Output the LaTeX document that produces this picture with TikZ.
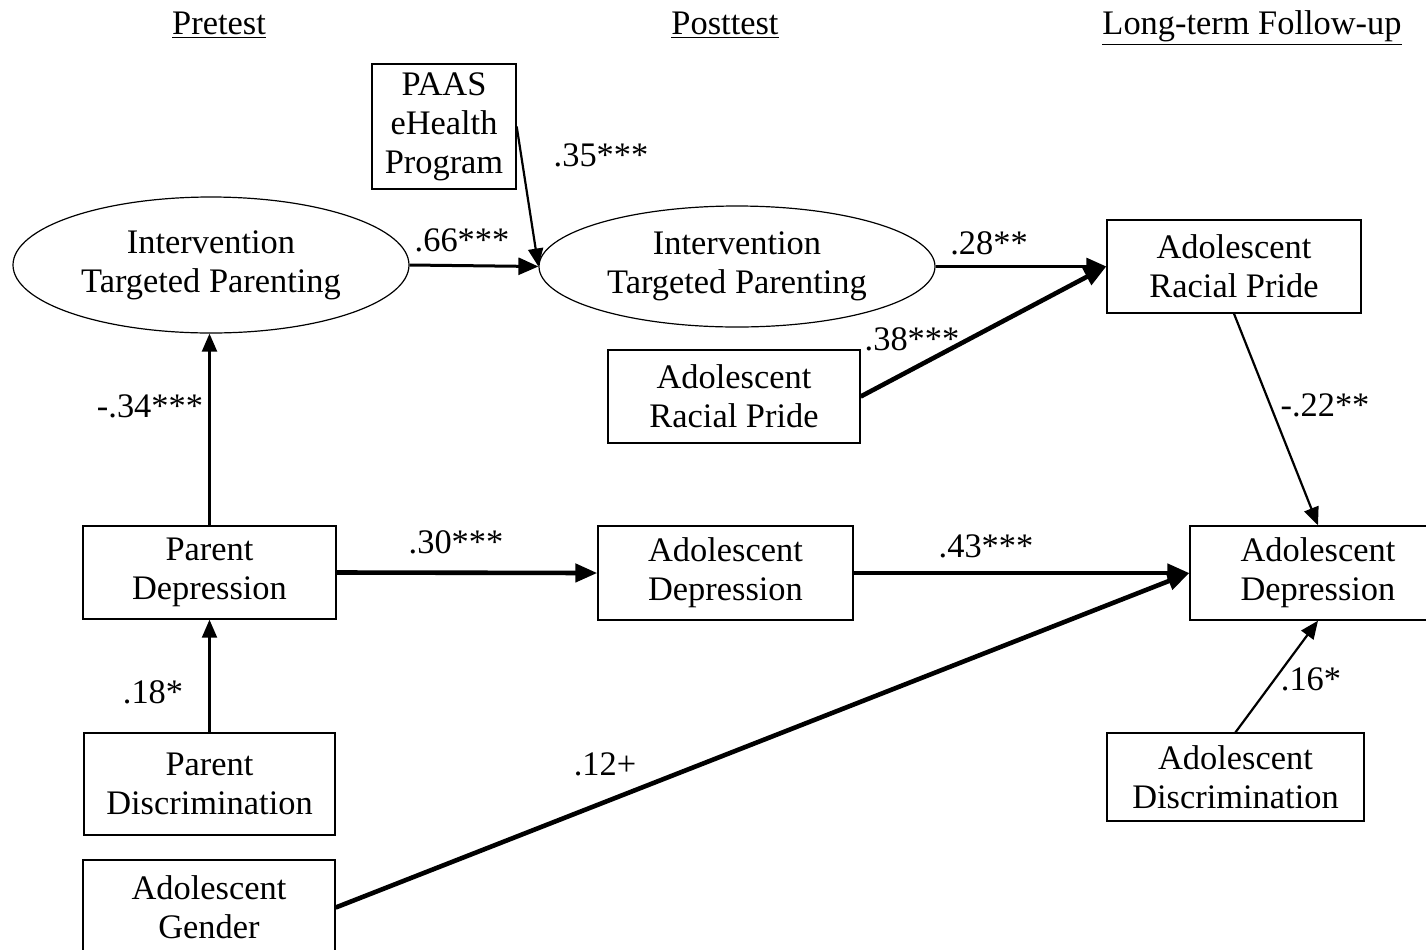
\documentclass[tikz,border=0pt]{standalone}
\usepackage{fontspec}
\setmainfont{Liberation Serif}
\usetikzlibrary{arrows.meta,shapes.geometric}
\begin{document}
\begin{tikzpicture}[x=0.5pt,y=-0.5pt,
  every node/.style={font=\fontsize{17.2pt}{19.5pt}\selectfont, inner sep=0pt},
  varbox/.style={draw, line width=0.7pt, align=center},
  latent/.style={draw, ellipse, line width=0.6pt, align=center},
  coef/.style={anchor=center},
  period/.style={anchor=base},
  thinpath/.style={line width=1.1pt, -{Triangle[length=9pt,width=7.5pt]}},
  midpath/.style={line width=1.5pt, -{Triangle[length=10pt,width=8.5pt]}},
  thickpath/.style={line width=2.3pt, -{Triangle[length=11pt,width=9pt]}}
]
\clip (0,0) rectangle (1426,949);
\fill[white] (0,0) rectangle (1426,949);

% wave headings
\node[period] (hpre)  at (219,34)  {\underline{Pretest}};
\node[period] (hpost) at (725,34)  {\underline{Posttest}};
\node[period] (hfu)   at (1252,34) {\underline{Long-term Follow-up}};

% variables
\node[varbox, minimum width=72pt, minimum height=62.5pt] (paas) at (444,126.5) {PAAS\\eHealth\\Program};
\node[latent, minimum width=198pt, minimum height=68pt] (tp1) at (211,265) {Intervention\\Targeted Parenting};
\node[latent, minimum width=198pt, minimum height=60.5pt] (tp2) at (737,266.5) {Intervention\\Targeted Parenting};
\node[varbox, minimum width=127pt, minimum height=46.5pt] (rp3) at (1234,266.5) {Adolescent\\Racial Pride};
\node[varbox, minimum width=126pt, minimum height=46.5pt] (rp2) at (734,396.5) {Adolescent\\Racial Pride};
\node[varbox, minimum width=126.5pt, minimum height=46.5pt] (pd) at (209.5,572.5) {Parent\\Depression};
\node[varbox, minimum width=127.5pt, minimum height=47pt] (ad2) at (725.5,573) {Adolescent\\Depression};
\node[varbox, minimum width=128pt, minimum height=47pt] (ad3) at (1318,573) {Adolescent\\Depression};
\node[varbox, minimum width=125.5pt, minimum height=51pt] (pdis) at (209.5,784) {Parent\\Discrimination};
\node[varbox, minimum width=126pt, minimum height=47.5pt] (gen) at (209,907.5) {Adolescent\\Gender};
\node[varbox, minimum width=128.5pt, minimum height=44pt] (adis) at (1235.5,777) {Adolescent\\Discrimination};

% paths
\draw[midpath]   (tp1.east) -- (tp2.west);
\draw[thinpath]  (paas.east) -- (tp2.west);
\draw[midpath]   (tp2.east) -- (rp3.west);
\draw[thickpath] (rp2.east) -- (rp3.west);
\draw[thinpath]  (rp3.south) -- (ad3.north);
\draw[thinpath]  (pd.north) -- (pd.north |- tp1.south);
\draw[thickpath] (pd.east) -- (ad2.west);
\draw[thickpath] (ad2.east) -- (ad3.west);
\draw[thickpath] (gen.east) -- (ad3.west);
\draw[thinpath]  (pdis.north) -- (pd.south);
\draw[thinpath]  (adis.north) -- (ad3.south);

% coefficients
\node[coef] (c66) at (462,240)  {.66***};
\node[coef] (c35) at (601,155)  {.35***};
\node[coef] (c28) at (989,243)  {.28**};
\node[coef] (c38) at (912,339)  {.38***};
\node[coef] (c22) at (1325,405) {-.22**};
\node[coef] (c34) at (150,406)  {-.34***};
\node[coef] (c30) at (456,542)  {.30***};
\node[coef] (c43) at (986,546)  {.43***};
\node[coef] (c12) at (605,764)  {.12+};
\node[coef] (c18) at (153,692)  {.18*};
\node[coef] (c16) at (1311,679) {.16*};
\end{tikzpicture}
\end{document}
